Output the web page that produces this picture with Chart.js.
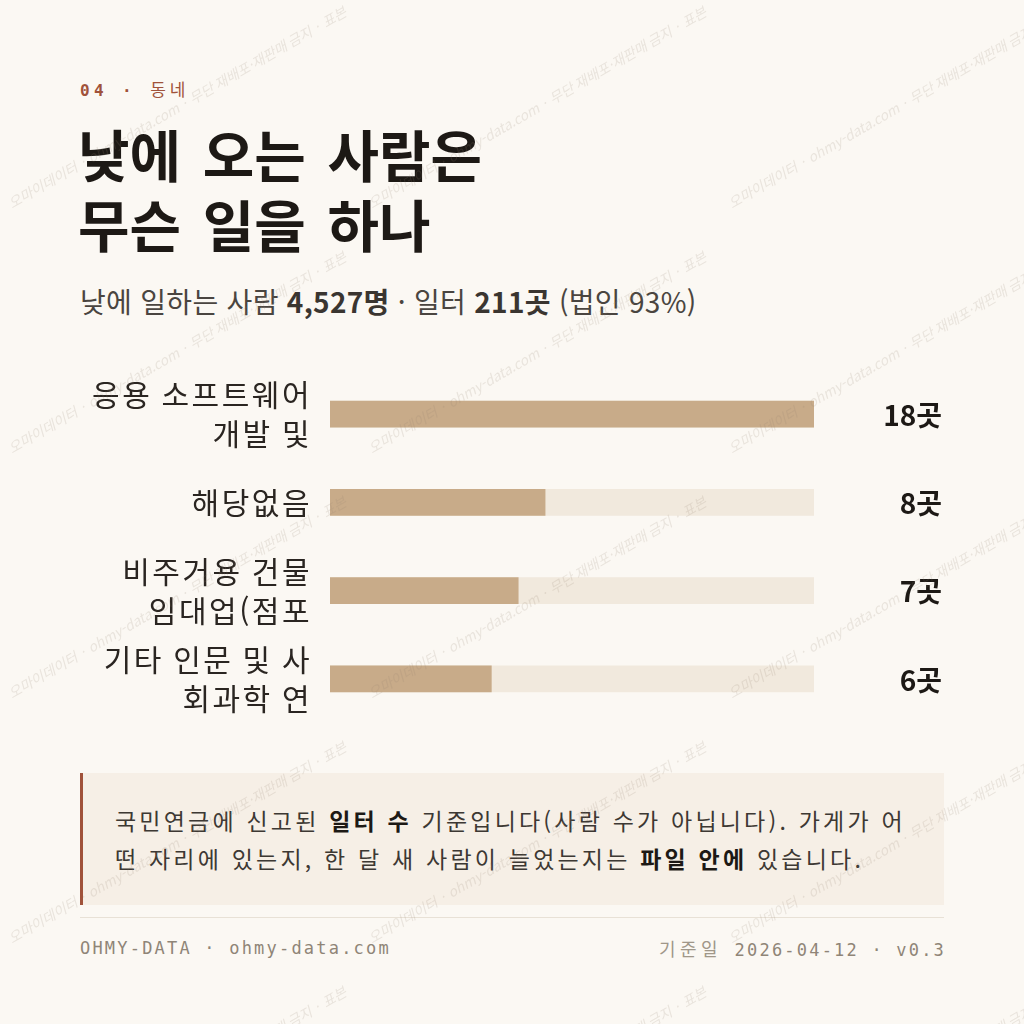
<!DOCTYPE html>
<html lang="ko">
<head>
<meta charset="utf-8">
<script src="https://cdn.jsdelivr.net/npm/chart.js@4.4.1/dist/chart.umd.min.js"></script>
<style>
  html,body{margin:0;padding:0;}
  body{width:1024px;height:1024px;background:#fbf8f3;position:relative;overflow:hidden;font-family:"Noto Sans CJK KR","Noto Sans",sans-serif;color:#1f1a17;}
  .kicker{position:absolute;left:80px;top:77px;line-height:24px;font-family:"DejaVu Sans Mono",monospace;font-size:16px;letter-spacing:4.4px;color:#a0523a;font-weight:bold;}
  .kicker .k{font-family:"Noto Sans CJK KR",sans-serif;font-weight:400;font-size:17px;letter-spacing:4px;}
  h1{position:absolute;left:78px;top:118px;margin:0;font-size:56px;line-height:70px;font-weight:700;color:#1d1915;letter-spacing:0px;word-spacing:6px;}
  .sub{position:absolute;left:80px;top:282px;font-size:28px;line-height:38px;color:#4a4540;letter-spacing:0.3px;}
  .sub b{color:#3a3530;font-weight:700;}
  #wrap{position:absolute;left:80px;top:350px;width:864px;height:390px;}
  .note{position:absolute;left:80px;top:773px;width:864px;height:132px;box-sizing:border-box;background:#f6efe6;border-left:3px solid #a0523a;padding:28px 10px 0 32px;font-size:23px;line-height:38px;color:#3d3833;white-space:nowrap;letter-spacing:3.2px;}
  .note b{color:#1d1915;}
  .rule{position:absolute;left:80px;top:917px;width:864px;height:1px;background:#e8e1d6;}
  .foot{position:absolute;top:937px;line-height:22px;font-family:"DejaVu Sans Mono",monospace;font-size:17px;color:#8f8577;letter-spacing:2.2px;white-space:nowrap;}
  .foot .k{font-family:"Noto Sans CJK KR",sans-serif;font-weight:400;font-size:18px;color:#a09789;letter-spacing:4.5px;}
  #wm{position:absolute;left:0;top:0;pointer-events:none;}
</style>
</head>
<body>
<div class="kicker">04 · <span class="k">동네</span></div>
<h1>낮에 오는 사람은<br>무슨 일을 하나</h1>
<div class="sub">낮에 일하는 사람 <b>4,527명</b> · 일터 <b>211곳</b> (법인 93%)</div>
<div id="wrap"><canvas id="c"></canvas></div>
<div class="note">국민연금에 신고된 <b>일터 수</b> 기준입니다(사람 수가 아닙니다). 가게가 어<br>떤 자리에 있는지, 한 달 새 사람이 늘었는지는 <b>파일 안에</b> 있습니다.</div>
<div class="rule"></div>
<div class="foot" style="left:80px;">OHMY-DATA · ohmy-data.com</div>
<div class="foot" style="right:78px;text-align:right;"><span class="k">기준일</span> 2026-04-12 · v0.3</div>
<canvas id="wm" width="1024" height="1024"></canvas>
<script>
// ---- data ----
const categories = [
  ['응용 소프트웨어', '개발 및'],
  ['해당없음'],
  ['비주거용 건물', '임대업(점포'],
  ['기타 인문 및 사', '회과학 연']
];
const counts = [18, 8, 7, 6];
const unit = '곳';
const trackMax = Math.max(...counts);
const trackValues = counts.map(() => trackMax);

// ---- colours ----
const barColor = '#c8ab89';
const trackColor = '#f1e9dd';

const spacing = {
  id: 'spacing',
  beforeDraw(chart) { chart.ctx.letterSpacing = '2.5px'; }
};

const valueLabels = {
  id: 'valueLabels',
  afterDatasetsDraw(chart) {
    const ctx = chart.ctx;
    const meta = chart.getDatasetMeta(0);
    ctx.save();
    ctx.letterSpacing = '0px';
    ctx.font = 'bold 28px "Noto Sans CJK KR", sans-serif';
    ctx.fillStyle = '#1d1915';
    ctx.textAlign = 'right';
    ctx.textBaseline = 'middle';
    meta.data.forEach((el, i) => {
      ctx.fillText(counts[i] + unit, chart.width - 2, el.y + 1);
    });
    ctx.restore();
  }
};

new Chart(document.getElementById('c'), {
  type: 'bar',
  data: {
    labels: categories,
    datasets: [
      { data: counts, backgroundColor: barColor, barThickness: 26, grouped: false },
      { data: trackValues, backgroundColor: trackColor, barThickness: 26, grouped: false }
    ]
  },
  options: {
    indexAxis: 'y',
    responsive: true,
    maintainAspectRatio: false,
    animation: false,
    layout: { padding: { top: 20, bottom: 17, right: 130, left: 0 } },
    plugins: { legend: { display: false }, tooltip: { enabled: false } },
    scales: {
      x: { display: false, min: 0, max: trackMax },
      y: {
        afterFit(scale) { scale.width = 250; scale.paddingTop = 0; scale.paddingBottom = 0; },
        grid: { display: false },
        border: { display: false },
        ticks: {
          color: '#2a2521',
          padding: 10,
          font: { family: '"Noto Sans CJK KR", sans-serif', size: 30, lineHeight: 1.3 }
        }
      }
    }
  },
  plugins: [spacing, valueLabels]
});

// ---- watermark (decoration) ----
(function(){
  const c = document.getElementById('wm').getContext('2d');
  const txt = '오마이데이터 · ohmy-data.com · 무단 재배포·재판매 금지 · 표본';
  c.font = 'italic 14px "Noto Sans CJK KR", sans-serif';
  c.fillStyle = 'rgba(150,130,110,0.17)';
  for (let j = -1; j < 6; j++) {
    for (let i = -1; i < 4; i++) {
      c.save();
      c.translate(i * 360 + 180, j * 245 + 112);
      c.rotate(-30 * Math.PI / 180);
      c.textAlign = 'center';
      c.fillText(txt, 0, 0);
      c.restore();
    }
  }
})();
</script>
</body>
</html>
